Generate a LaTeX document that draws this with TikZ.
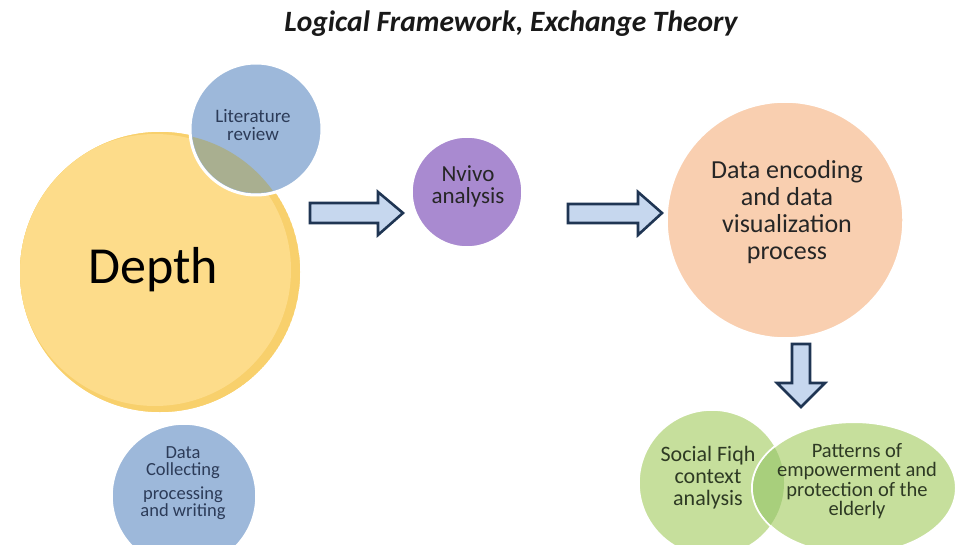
\documentclass[tikz,border=0pt]{standalone}
\usepackage{fontspec}
\setmainfont{Carlito}
\usetikzlibrary{shapes.geometric}
\definecolor{yel}{HTML}{FDDC8A}
\definecolor{yelrim}{HTML}{F8D06C}
\definecolor{blu}{HTML}{9DB8DA}
\definecolor{bluyel}{HTML}{A9AF90}
\definecolor{pur}{HTML}{A98AD0}
\definecolor{pea}{HTML}{F9CFB0}
\definecolor{grn}{HTML}{C6DF9C}
\definecolor{grndk}{HTML}{A8CF7C}
\definecolor{arrfill}{HTML}{C6D7EE}
\definecolor{arrline}{HTML}{1F3553}
\definecolor{bluetext}{HTML}{2C3B58}
\definecolor{grntext}{HTML}{2E3A24}
\begin{document}
\begin{tikzpicture}[x=1pt,y=-1pt,
  blob/.style={circle,inner sep=0pt,draw=white,line width=1.5pt},
  txt/.style={align=center,inner sep=0pt},
  blockarrow/.style={fill=arrfill,draw=arrline,line width=2.6pt,line join=miter}]
\useasboundingbox (0,0) rectangle (957,545);
\clip (0,0) rectangle (957,545);
\fill[white] (0,0) rectangle (957,545);

% title
\node[txt,font=\fontsize{29.5}{30}\selectfont\bfseries\itshape,text=black!90] (title) at (511,24) {Logical Framework, Exchange Theory};

% depth + literature review
\node[blob,fill=yel,minimum size=282pt] (depth) at (160,272) {};
\begin{scope}
  \clip (160,272) circle[radius=140pt];
  \fill[yelrim] (160,272) circle[radius=140pt];
  \fill[yel] (155,270) circle[radius=136pt];
\end{scope}
\node[blob,fill=blu,minimum size=132pt,line width=3pt] (lit) at (256,129) {};
\begin{scope}
  \clip (160,272) circle[radius=139pt];
  \fill[bluyel] (256,129) circle[radius=64pt];
\end{scope}
\node[txt,font=\fontsize{52}{52}\selectfont,text=black] (depthlbl) at (153,270) {Depth};
\node[txt,font=\fontsize{19}{18.5}\selectfont,text=bluetext] (litlbl) at (253,125) {Literature\\review};

% data collecting
\node[blob,fill=blu,minimum size=144pt] (collect) at (184,496) {};
\node[txt,font=\fontsize{18.5}{17}\selectfont,text=bluetext] (collectlbl) at (183,483) {Data\\Collecting\\[7pt]processing\\and writing};

% Nvivo
\node[blob,fill=pur,minimum size=110pt] (nvivo) at (467,192) {};
\node[txt,font=\fontsize{23}{22}\selectfont,text=black!85] (nvivolbl) at (468,186) {Nvivo\\analysis};

% data encoding
\node[blob,fill=pea,minimum size=236pt] (encode) at (785,220) {};
\node[txt,font=\fontsize{26}{27}\selectfont,text=black!85] (encodelbl) at (787,212) {Data encoding\\and data\\visualization\\process};

% horizontal arrows
\draw[blockarrow] (310,203) -- (378,203) -- (378,192) -- (403,213) -- (378,235) -- (378,223) -- (310,223) -- cycle;
\draw[blockarrow] (568,204) -- (638,204) -- (638,192) -- (662,213) -- (638,235) -- (638,223) -- (568,223) -- cycle;
% down arrow
\draw[blockarrow] (792,344) -- (810,344) -- (810,383) -- (825,383) -- (801,407) -- (777,383) -- (792,383) -- cycle;

% bottom green shapes
\node[blob,fill=grn,minimum size=146pt] (fiqh) at (712,483) {};
\node[ellipse,inner sep=0pt,draw=white,line width=2pt,fill=grn,minimum width=204pt,minimum height=132pt] (patterns) at (854,488) {};
\begin{scope}
  \clip (712,483) circle[radius=72pt];
  \fill[grndk] (854,488) ellipse[x radius=101pt,y radius=65pt];
\end{scope}
\node[txt,font=\fontsize{22}{22}\selectfont,text=grntext] (fiqhlbl) at (708,478) {Social Fiqh\\context\\analysis};
\node[txt,font=\fontsize{20.5}{19.5}\selectfont,text=grntext] (patternslbl) at (857,481) {Patterns of\\empowerment and\\protection of the\\elderly};
\end{tikzpicture}
\end{document}
